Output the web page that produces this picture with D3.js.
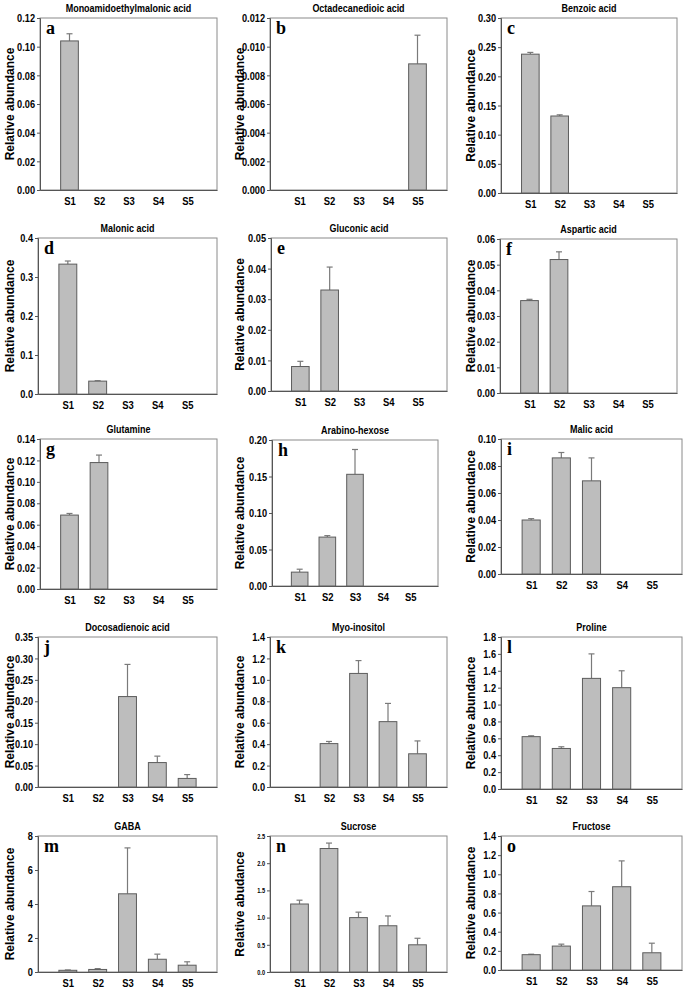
<!DOCTYPE html>
<html><head><meta charset="utf-8">
<script src="https://cdn.jsdelivr.net/npm/d3@7/dist/d3.min.js"></script>
<style>
body{margin:0;background:#fff;}
svg{display:block;}
</style></head>
<body>
<svg id="chart" width="685" height="996"></svg>
<script>
const categories = ["S1","S2","S3","S4","S5"];
const titles = ["Monoamidoethylmalonic acid","Octadecanedioic acid","Benzoic acid",
  "Malonic acid","Gluconic acid","Aspartic acid",
  "Glutamine","Arabino-hexose","Malic acid",
  "Docosadienoic acid","Myo-inositol","Proline",
  "GABA","Sucrose","Fructose"];
const letters = ["a","b","c","d","e","f","g","h","i","j","k","l","m","n","o"];
const yLabels = ["Relative abundance","Relative abundance","Relative abundance",
  "Relative abundance","Relative abundance","Relative abundance",
  "Relative abundance","Relative abundance","Relative abundance",
  "Relative abundance","Relative abundance","Relative abundance",
  "Relative abundance","Relative abudance","Relative abundance"];
// values per panel (S1..S5); null = not detected
const values = [
  [0.104,null,null,null,null],
  [null,null,null,null,0.0088],
  [0.238,0.132,null,null,null],
  [0.333,0.033,null,null,null],
  [0.008,0.033,null,null,null],
  [0.036,0.052,null,null,null],
  [0.069,0.118,null,null,null],
  [0.019,0.067,0.153,null,null],
  [0.040,0.086,0.069,null,null],
  [null,null,0.211,0.057,0.020],
  [null,0.405,1.06,0.61,0.31],
  [0.62,0.48,1.31,1.20,null],
  [0.10,0.15,4.6,0.75,0.40],
  [1.25,2.27,1.00,0.85,0.50],
  [0.16,0.25,0.67,0.87,0.18]
];
const errors = [
  [0.005,0,0,0,0],
  [0,0,0,0,0.002],
  [0.003,0.002,0,0,0],
  [0.008,0.001,0,0,0],
  [0.0017,0.0075,0,0,0],
  [0.0005,0.003,0,0,0],
  [0.0015,0.007,0,0,0],
  [0.004,0.002,0.034,0,0],
  [0.001,0.004,0.017,0,0],
  [0,0,0.075,0.015,0.009],
  [0,0.02,0.12,0.17,0.12],
  [0.01,0.02,0.29,0.20,0],
  [0.02,0.05,2.7,0.3,0.2],
  [0.07,0.10,0.10,0.18,0.12],
  [0.005,0.02,0.15,0.27,0.10]
];
const yMax  = [0.12,0.012,0.30,0.4,0.05,0.06,0.14,0.20,0.10,0.35,1.4,1.8,8,2.5,1.4];
const yStep = [0.02,0.002,0.05,0.1,0.01,0.01,0.02,0.05,0.02,0.05,0.2,0.2,2,0.5,0.2];
const yDec  = [2,3,2,1,2,2,2,2,2,2,1,1,0,1,1];

// layout: plot rectangles [left, top, right, bottom]
const rects = [
  [40,18,217,190],[270,18,447,190],[501,18,677,193],
  [38,238,217,394],[271,238,447,391],[500,239,677,393],
  [40,439,217,589],[272,440,438,586],[501,439,682,574],
  [38,637,217,787],[270,637,447,787],[501,637,682,789],
  [38,836,217,972],[270,836,447,972],[501,836,682,970]
];
const labelX = [10, 240, 471];

const svg = d3.select("#chart");
const sans = "'Liberation Sans',Arial,sans-serif";

function condense(sel, ratio) {
  sel.each(function() {
    const w = this.getComputedTextLength();
    if (w > 0) d3.select(this).attr("textLength", w * ratio).attr("lengthAdjust", "spacingAndGlyphs");
  });
}

rects.forEach((r, i) => {
  const [L, T, R, B] = r;
  const g = svg.append("g");
  const x = d3.scalePoint().domain(categories).range([L, R]).padding(1);
  const y = d3.scaleLinear().domain([0, yMax[i]]).range([B, T]);
  const ticks = d3.range(0, yMax[i] + yStep[i] / 2, yStep[i]);
  const small = (i === 13);

  // frame
  g.append("rect").attr("x", L).attr("y", T).attr("width", R - L).attr("height", B - T)
    .attr("fill", "none").attr("stroke", "#8a8a8a").attr("stroke-width", 1);

  // y axis
  const ya = d3.axisLeft(y).tickValues(ticks).tickSize(3).tickPadding(2)
    .tickFormat(d => d3.format("." + yDec[i] + "f")(d));
  const yg = g.append("g").attr("transform", `translate(${L},0)`).call(ya);
  yg.select(".domain").attr("stroke", "#555");
  yg.selectAll(".tick line").attr("stroke", "#555");
  yg.selectAll("text").attr("font-family", sans).attr("font-weight", "bold")
    .attr("font-size", small ? 7 : 11.5).attr("fill", "#000").call(condense, 0.8);

  // x axis
  const xa = d3.axisBottom(x).tickSize(0).tickPadding(7);
  const xg = g.append("g").attr("transform", `translate(0,${B})`).call(xa);
  xg.select(".domain").attr("stroke", "#555");
  xg.selectAll("text").attr("font-family", sans).attr("font-weight", "bold")
    .attr("font-size", 11.5).attr("fill", "#000").call(condense, 0.82);

  const bw = x.step() * 0.6;
  const data = categories.map((c, k) => ({c, v: values[i][k], e: errors[i][k]})).filter(d => d.v !== null);

  // error bars (upper only)
  data.filter(d => d.e > 0).forEach(d => {
    const cx = x(d.c);
    g.append("line").attr("x1", cx).attr("x2", cx).attr("y1", y(d.v)).attr("y2", y(d.v + d.e))
      .attr("stroke", "#7a7a7a").attr("stroke-width", 1.2);
    g.append("line").attr("x1", cx - 3).attr("x2", cx + 3).attr("y1", y(d.v + d.e)).attr("y2", y(d.v + d.e))
      .attr("stroke", "#7a7a7a").attr("stroke-width", 1.2);
  });

  // bars
  g.selectAll("rect.bar").data(data).join("rect").attr("class", "bar")
    .attr("x", d => x(d.c) - bw / 2).attr("width", bw)
    .attr("y", d => y(d.v)).attr("height", d => B - y(d.v))
    .attr("fill", "#bdbdbd").attr("stroke", "#5c5c5c").attr("stroke-width", 1);

  // title
  g.append("text").attr("x", (L + R) / 2).attr("y", T - 6).attr("text-anchor", "middle")
    .attr("font-family", sans).attr("font-weight", "bold").attr("font-size", 11.5)
    .attr("fill", "#000").text(titles[i]).call(condense, 0.78);

  // letter
  g.append("text").attr("x", L + 6).attr("y", T + 16)
    .attr("font-family", "'Liberation Serif','Times New Roman',serif").attr("font-weight", "bold")
    .attr("font-size", 18).attr("fill", "#000").text(letters[i]);

  // y label
  g.append("text").attr("transform", `translate(${labelX[i % 3] + 4},${(T + B) / 2}) rotate(-90)`)
    .attr("text-anchor", "middle").attr("font-family", sans)
    .attr("font-weight", "bold").attr("font-size", 12).attr("fill", "#000").text(yLabels[i]);
});
</script>
</body></html>
